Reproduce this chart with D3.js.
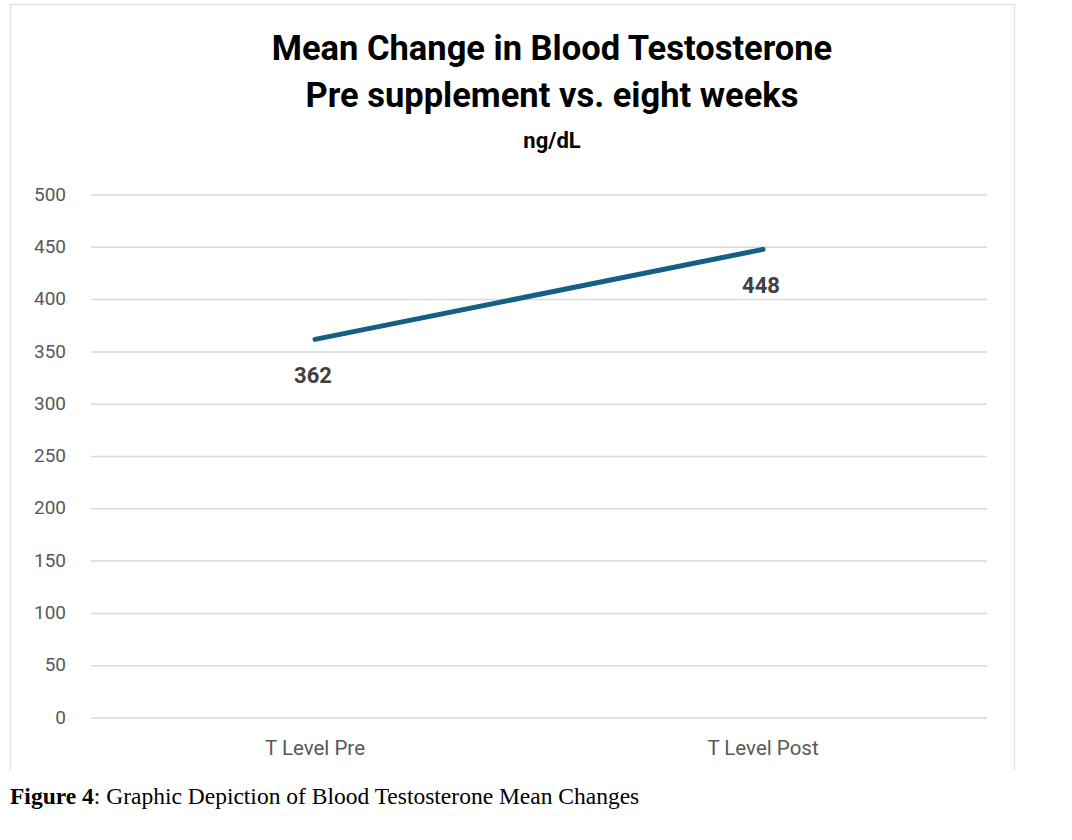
<!DOCTYPE html>
<html>
<head>
<meta charset="utf-8">
<script src="https://cdn.jsdelivr.net/npm/d3@7"></script>
<style>
  body { margin: 0; background: #fff; }
  svg { display: block; }
  .narrow { font-family: "Liberation Sans Narrow", "Roboto", sans-serif; }
</style>
</head>
<body>
<script>
const categories = ['T Level Pre', 'T Level Post']
const values = [362, 448]
const yTicks = [0, 50, 100, 150, 200, 250, 300, 350, 400, 450, 500]
const titleLines = ['Mean Change in Blood Testosterone', 'Pre supplement vs. eight weeks']
const unitLabel = 'ng/dL'

const width = 1072
const height = 840

const svg = d3.select('body')
  .append('svg')
  .attr('width', width)
  .attr('height', height)

// chart frame (left, top, right edges visible)
svg.append('path')
  .attr('d', 'M10.5,770 V4.5 H1014.5 V770')
  .attr('fill', 'none')
  .attr('stroke', '#e3e3e3')
  .attr('stroke-width', 1.5)

const plot = { left: 91, right: 987, top: 195, bottom: 718 }

const x = d3.scalePoint()
  .domain(categories)
  .range([plot.left, plot.right])
  .padding(0.5)

const y = d3.scaleLinear()
  .domain([0, 500])
  .range([plot.bottom, plot.top])

// gridlines
svg.append('g')
  .selectAll('line')
  .data(yTicks)
  .enter().append('line')
  .attr('x1', plot.left)
  .attr('x2', plot.right)
  .attr('y1', d => y(d))
  .attr('y2', d => y(d))
  .attr('stroke', '#d9d9d9')
  .attr('stroke-width', 1.5)

// y tick labels
svg.append('g')
  .selectAll('text')
  .data(yTicks)
  .enter().append('text')
  .classed('narrow', true)
  .attr('x', 66)
  .attr('y', d => y(d) - 1)
  .attr('dy', '0.35em')
  .attr('text-anchor', 'end')
  .attr('font-size', 19)
  .attr('fill', '#595959')
  .text(d => d)

// x labels
svg.append('g')
  .selectAll('text')
  .data(categories)
  .enter().append('text')
  .classed('narrow', true)
  .attr('x', d => x(d))
  .attr('y', 755)
  .attr('text-anchor', 'middle')
  .attr('font-size', 20.5)
  .attr('fill', '#595959')
  .text(d => d)

const pts = categories.map((c, i) => ({ c, v: values[i] }))

const line = d3.line()
  .x(d => x(d.c))
  .y(d => y(d.v))

svg.append('path')
  .datum(pts)
  .attr('d', line)
  .attr('fill', 'none')
  .attr('stroke', '#156082')
  .attr('stroke-width', 5)
  .attr('stroke-linecap', 'round')

// data labels below points
svg.append('g')
  .selectAll('text')
  .data(pts)
  .enter().append('text')
  .attr('x', d => x(d.c) - 2)
  .attr('y', d => y(d.v) + 44)
  .attr('text-anchor', 'middle')
  .attr('font-family', 'Roboto, sans-serif')
  .attr('font-weight', 'bold')
  .attr('font-size', 22)
  .attr('fill', '#404040')
  .text(d => d.v)

// titles
svg.append('g')
  .selectAll('text')
  .data(titleLines)
  .enter().append('text')
  .classed('narrow', true)
  .attr('x', 552)
  .attr('y', (d, i) => 60 + i * 47)
  .attr('text-anchor', 'middle')
  .attr('font-size', 34.5)
  .attr('font-weight', 'bold')
  .attr('fill', '#000')
  .text(d => d)

svg.append('text')
  .classed('narrow', true)
  .attr('x', 552)
  .attr('y', 148)
  .attr('text-anchor', 'middle')
  .attr('font-size', 22)
  .attr('font-weight', 'bold')
  .attr('fill', '#000')
  .text(unitLabel)

// figure caption
const cap = svg.append('text')
  .attr('x', 10)
  .attr('y', 804)
  .attr('font-family', '"Liberation Serif", "Times New Roman", serif')
  .attr('font-size', 23.5)
  .attr('fill', '#000')
cap.append('tspan').attr('font-weight', 'bold').text('Figure 4')
cap.append('tspan').text(': Graphic Depiction of Blood Testosterone Mean Changes')
</script>
</body>
</html>
